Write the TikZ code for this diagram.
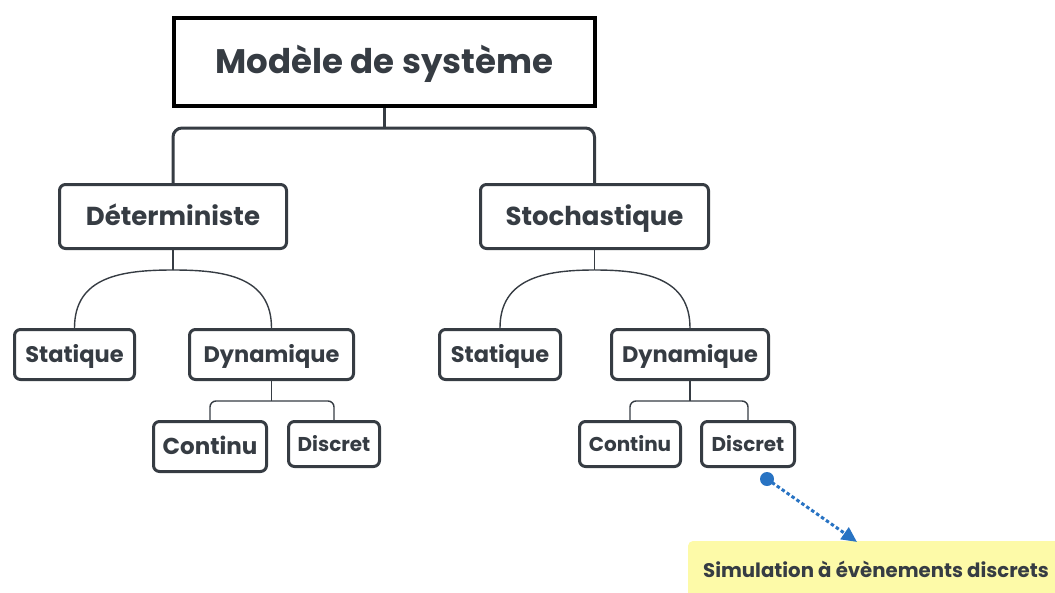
\documentclass[tikz,border=0pt]{standalone}
\usepackage{fontspec}
\setmainfont{Poppins}
\usetikzlibrary{arrows.meta}
\definecolor{ink}{RGB}{54,60,67}
\definecolor{linkblue}{RGB}{40,115,195}
\definecolor{notey}{RGB}{253,250,168}
\tikzset{
  box/.style={draw=ink, line width=3pt, rounded corners=6pt, fill=white,
    text=ink, inner sep=0pt, text depth=0pt},
  rootbox/.style={draw=black, line width=4pt, fill=white, text=ink,
    font=\bfseries\fontsize{34}{40}\selectfont, inner sep=0pt,
    text height=23.5pt, text depth=0pt},
  trunk/.style={draw=ink, line width=3pt, rounded corners=9pt},
  twig/.style={draw=ink, line width=1.4pt},
  bluelink/.style={draw=linkblue, line width=3pt, dash pattern=on 3.5pt off 2.5pt},
  notebox/.style={fill=notey, rounded corners=5pt, text=ink, inner sep=0pt,
    text height=13.8pt, text depth=0pt,
    font=\bfseries\fontsize{19.7}{23}\selectfont},
  fa/.style={font=\bfseries\fontsize{26}{30}\selectfont, text height=18pt},
  fb/.style={font=\bfseries\fontsize{22.5}{27}\selectfont, text height=15.7pt},
  fbb/.style={font=\bfseries\fontsize{23}{27}\selectfont, text height=16pt},
  fc/.style={font=\bfseries\fontsize{20}{24}\selectfont, text height=14pt}
}
\begin{document}
\begin{tikzpicture}[x=1pt,y=-1pt]
\useasboundingbox (0,0) rectangle (1055,592);
% note box at the lower right
\node[notebox, minimum width=376pt, minimum height=60pt] (sim) at (876,571) {Simulation à évènements discrets};
% root
\node[rootbox, minimum width=421pt, minimum height=88pt] (root) at (384.5,62) {Modèle de système};
% first level
\node[box, fa, minimum width=227pt, minimum height=64pt] (det) at (173,216.5) {Déterministe};
\node[box, fa, minimum width=228pt, minimum height=64pt] (sto) at (594.5,216.5) {Stochastique};
% second level
\node[box, fb, minimum width=120pt, minimum height=50pt] (stat1) at (74.5,354.5) {Statique};
\node[box, fb, minimum width=164pt, minimum height=50pt] (dyn1) at (271.5,354.5) {Dynamique};
\node[box, fb, minimum width=121pt, minimum height=50pt] (stat2) at (500,354.5) {Statique};
\node[box, fb, minimum width=157pt, minimum height=50pt] (dyn2) at (690,354.5) {Dynamique};
% third level
\node[box, fbb, minimum width=113pt, minimum height=50pt] (cont1) at (210,446.5) {Continu};
\node[box, fc, minimum width=91pt, minimum height=45pt] (disc1) at (334,444) {Discret};
\node[box, fc, minimum width=101pt, minimum height=45pt] (cont2) at (630,444) {Continu};
\node[box, fc, minimum width=93pt, minimum height=45pt] (disc2) at (748,444) {Discret};
% junctions
\coordinate (j0) at (384.5,128);
\coordinate (j1) at (173,270);
\coordinate (j2) at (594.5,270);
\coordinate (j3) at (271.5,401);
\coordinate (j4) at (690,401);
% connectors
\draw[trunk] (root.south) -- (j0);
\draw[trunk] (det.north) |- (j0) -| (sto.north);
\draw[twig] (det.south) -- (j1);
\draw[twig] (j1) to[out=180,in=90,looseness=1.15] (stat1.north);
\draw[twig] (j1) to[out=0,in=90,looseness=1.15] (dyn1.north);
\draw[twig] (sto.south) -- (j2);
\draw[twig] (j2) to[out=180,in=90,looseness=1.15] (stat2.north);
\draw[twig] (j2) to[out=0,in=90,looseness=1.15] (dyn2.north);
\draw[twig] (dyn1.south) -- (j3);
\draw[twig, rounded corners=6pt] (cont1.north) |- (j3) -| (disc1.north);
\draw[twig] (dyn2.south) -- (j4);
\draw[twig, rounded corners=6pt] (cont2.north) |- (j4) -| (disc2.north);
% link to the note
\coordinate (dot) at ([shift={(19pt,-11pt)}]disc2.south);
\draw[bluelink, -{Triangle[length=15pt,width=15pt,line width=0pt]}] (dot) -- ([xshift=169pt,yshift=-1pt]sim.north west);
\fill[linkblue] (dot) circle (7pt);
\end{tikzpicture}
\end{document}
